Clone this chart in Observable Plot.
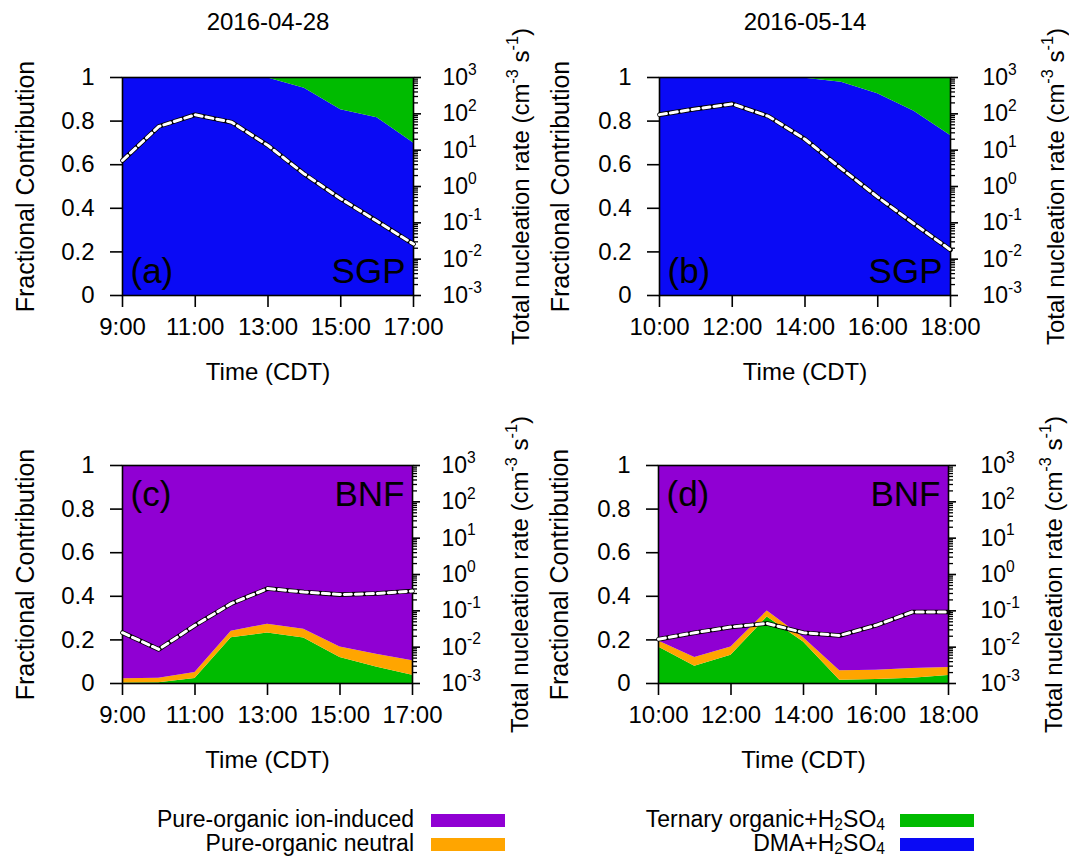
<!DOCTYPE html>
<html>
<head>
<meta charset="utf-8">
<script src="https://cdn.jsdelivr.net/npm/d3@7"></script>
<script src="https://cdn.jsdelivr.net/npm/@observablehq/plot@0.6"></script>
<style>
  html, body { margin: 0; padding: 0; background: #fff; }
  body { font-family: "Liberation Sans", Arial, Helvetica, sans-serif; }
  #wrap { position: relative; width: 1069px; height: 859px; overflow: hidden; }
  .layer { position: absolute; }
  .layer svg { overflow: visible; }
  .legtext { position: absolute; font-size: 23px; line-height: 21px; color: #000; white-space: nowrap; text-align: right; }
  .legtext sub { font-size: 0.68em; vertical-align: -0.22em; line-height: 0; }
  .swatch { position: absolute; width: 74px; height: 13px; }
</style>
</head>
<body>
<div id="wrap"></div>
<script>
// ---------------- data ----------------
const species = ["DMA+H2SO4", "Ternary organic+H2SO4", "Pure-organic neutral", "Pure-organic ion-induced"];
const speciesColors = ["#0a0af5", "#00bb00", "#ffa500", "#9000d3"];

const hoursApr = [9, 10, 11, 12, 13, 14, 15, 16, 17];
const hoursMay = [10, 11, 12, 13, 14, 15, 16, 17, 18];
const xTicksApr = [9, 11, 13, 15, 17];
const xTicksMay = [10, 12, 14, 16, 18];
const yTicksLeft = [0, 0.2, 0.4, 0.6, 0.8, 1];
const yTicksRight = [1e-3, 1e-2, 1e-1, 1e0, 1e1, 1e2, 1e3];

// (a) SGP 2016-04-28
const aDMA  = [1, 1, 1, 1, 0.998, 0.951, 0.852, 0.815, 0.699];
const aTern = [0, 0, 0, 0, 0.002, 0.049, 0.148, 0.185, 0.301];
const aNeut = [0, 0, 0, 0, 0, 0, 0, 0, 0];
const aIon  = [0, 0, 0, 0, 0, 0, 0, 0, 0];
const aRate = [5.2, 45, 94, 59, 13.4, 2.2, 0.46, 0.11, 0.026];

// (b) SGP 2016-05-14
const bDMA  = [1, 1, 1, 1, 0.997, 0.978, 0.925, 0.845, 0.734];
const bTern = [0, 0, 0, 0, 0.003, 0.022, 0.075, 0.155, 0.266];
const bNeut = [0, 0, 0, 0, 0, 0, 0, 0, 0];
const bIon  = [0, 0, 0, 0, 0, 0, 0, 0, 0];
const bRate = [95, 137, 188, 85, 20, 3.1, 0.51, 0.094, 0.018];

// (c) BNF 2016-04-28
const cDMA  = [0, 0, 0, 0, 0, 0, 0, 0, 0];
const cTern = [0.002, 0.003, 0.023, 0.21, 0.232, 0.209, 0.119, 0.076, 0.038];
const cNeut = [0.020, 0.021, 0.027, 0.03, 0.04, 0.04, 0.049, 0.058, 0.066];
const cIon  = [0.978, 0.976, 0.95, 0.76, 0.728, 0.751, 0.832, 0.866, 0.896];
const cRate = [0.025, 0.0087, 0.040, 0.158, 0.41, 0.33, 0.28, 0.30, 0.35];

// (d) BNF 2016-05-14
const dDMA  = [0, 0, 0, 0, 0, 0, 0, 0, 0];
const dTern = [0.168, 0.079, 0.13, 0.305, 0.19, 0.015, 0.018, 0.024, 0.037];
const dNeut = [0.027, 0.04, 0.038, 0.028, 0.02, 0.043, 0.043, 0.045, 0.036];
const dIon  = [0.805, 0.881, 0.832, 0.667, 0.79, 0.942, 0.939, 0.931, 0.927];
const dRate = [0.0166, 0.025, 0.036, 0.045, 0.025, 0.021, 0.04, 0.093, 0.093];

const legendItems = [
  {label: "Pure-organic ion-induced", color: speciesColors[3]},
  {label: "Pure-organic neutral", color: speciesColors[2]},
  {label: "Ternary organic+H<sub>2</sub>SO<sub>4</sub>", color: speciesColors[1]},
  {label: "DMA+H<sub>2</sub>SO<sub>4</sub>", color: speciesColors[0]}
];

// ---------------- helpers ----------------
const FONT = "'Liberation Sans', Arial, Helvetica, sans-serif";
const NS = "http://www.w3.org/2000/svg";
const wrap = document.getElementById("wrap");
const minorTicks = yTicksRight.slice(0, -1).flatMap(d => [2, 3, 4, 5, 6, 7, 8, 9].map(k => k * d));

function rich(svg) {
  svg.querySelectorAll("text").forEach(t => {
    const targets = t.querySelector("tspan") ? [...t.querySelectorAll("tspan")] : [t];
    for (const n of targets) {
      const s = n.textContent;
      if (!/[\^_]\{/.test(s)) continue;
      const fs = parseFloat(getComputedStyle(n).fontSize) || 24;
      while (n.firstChild) n.removeChild(n.firstChild);
      let cur = 0, last = 0, m;
      const re = /([\^_])\{([^}]*)\}/g;
      const add = (txt, size, target) => {
        const ts = document.createElementNS(NS, "tspan");
        if (size) ts.setAttribute("font-size", size);
        const dy = target - cur;
        if (dy) ts.setAttribute("dy", dy);
        cur = target;
        ts.textContent = txt;
        n.appendChild(ts);
      };
      while ((m = re.exec(s))) {
        if (m.index > last) add(s.slice(last, m.index), null, 0);
        add(m[2], 0.68 * fs, m[1] === "^" ? -0.45 * fs : 0.25 * fs);
        last = m.index + m[0].length;
      }
      if (last < s.length) add(s.slice(last), null, 0);
    }
  });
}

function place(svg, left, top) {
  const div = document.createElement("div");
  div.className = "layer";
  div.style.left = left + "px";
  div.style.top = top + "px";
  div.appendChild(svg);
  wrap.appendChild(div);
  rich(svg);
}

function panel(p) {
  const W = 534, H = 400;
  const arrs = [p.dma, p.tern, p.neut, p.ion];
  const rows = p.hours.flatMap((h, i) => species.map((s, k) => ({hour: h, species: s, value: arrs[k][i]})));
  const rateRows = p.hours.map((h, i) => ({hour: h, rate: p.rate[i]}));
  const xDomain = [p.hours[0], p.hours[p.hours.length - 1]];
  const common = {
    width: W, height: H,
    marginLeft: p.mL, marginRight: p.mR, marginTop: p.mT, marginBottom: p.mB,
    style: {background: "transparent", fontFamily: FONT, fontSize: "24px", color: "black", overflow: "visible"}
  };
  const txt = {text: d => d, lineAnchor: "middle"};
  const textMarks = [
    Plot.text(["Fractional Contribution"], {...txt, frameAnchor: "left", dx: p.yLabDx, rotate: -90, textAnchor: "middle", fontSize: 25}),
    Plot.text(["Time (CDT)"], {...txt, frameAnchor: "bottom", dy: 77, textAnchor: "middle", fontSize: 24}),
    Plot.text([p.tag], {...txt, frameAnchor: p.tagAnchor + "-left", dx: 8, dy: p.tagDy, textAnchor: "start", fontSize: 35}),
    Plot.text([p.site], {...txt, frameAnchor: p.tagAnchor + "-right", dx: -8, dy: p.tagDy, textAnchor: "end", fontSize: 35})
  ];
  if (p.title) textMarks.push(Plot.text([p.title], {...txt, frameAnchor: "top", dy: -55, textAnchor: "middle", fontSize: 24}));

  const base = Plot.plot({
    ...common,
    x: {domain: xDomain},
    y: {domain: [0, 1]},
    color: {domain: species, range: speciesColors},
    marks: [
      Plot.areaY(rows, {x: "hour", y: "value", z: "species", fill: "species", order: species}),
      Plot.frame({stroke: "black", strokeWidth: 1.6}),
      Plot.axisY({ticks: yTicksLeft, tickSize: 12, tickPadding: 16, tickFormat: d => String(d), label: null, strokeWidth: 1.6}),
      Plot.axisX({ticks: p.xTicks, tickSize: 12, tickPadding: 10, tickFormat: h => h + ":00", label: null, strokeWidth: 1.6}),
      ...textMarks
    ]
  });

  const over = Plot.plot({
    ...common,
    x: {domain: xDomain, axis: null},
    y: {type: "log", domain: [1e-3, 1e3]},
    marks: [
      Plot.line(rateRows, {x: "hour", y: "rate", stroke: "black", strokeWidth: 4.6}),
      Plot.line(rateRows, {x: "hour", y: "rate", stroke: "white", strokeWidth: 3, strokeDasharray: "7,4"}),
      Plot.axisY({anchor: "right", ticks: minorTicks, tickSize: 4, tickFormat: () => "", label: null, strokeWidth: 1.3}),
      Plot.axisY({anchor: "right", ticks: yTicksRight, tickSize: 7, tickPadding: p.rPad, fontSize: 23,
        tickFormat: d => `10^{${Math.round(Math.log10(d))}}`, label: null, strokeWidth: 1.6}),
      Plot.text(["Total nucleation rate (cm^{-3} s^{-1})"], {...txt, frameAnchor: "right", dx: p.rLabDx, rotate: -90, textAnchor: "middle", fontSize: 24})
    ]
  });

  place(base, p.left, p.top);
  place(over, p.left, p.top);
}

panel({left: 0, top: 0, mL: 122, mR: 121, mT: 77, mB: 105, hours: hoursApr, xTicks: xTicksApr,
  dma: aDMA, tern: aTern, neut: aNeut, ion: aIon, rate: aRate, tag: "(a)", site: "SGP", tagAnchor: "bottom", tagDy: -24,
  title: "2016-04-28", rPad: 22, yLabDx: -97, rLabDx: 108});
panel({left: 535, top: 0, mL: 124, mR: 119, mT: 77, mB: 105, hours: hoursMay, xTicks: xTicksMay,
  dma: bDMA, tern: bTern, neut: bNeut, ion: bIon, rate: bRate, tag: "(b)", site: "SGP", tagAnchor: "bottom", tagDy: -24,
  title: "2016-05-14", rPad: 25, yLabDx: -99, rLabDx: 106});
panel({left: 0, top: 390, mL: 122, mR: 122, mT: 75, mB: 107, hours: hoursApr, xTicks: xTicksApr,
  dma: cDMA, tern: cTern, neut: cNeut, ion: cIon, rate: cRate, tag: "(c)", site: "BNF", tagAnchor: "top", tagDy: 29,
  title: null, rPad: 22, yLabDx: -97, rLabDx: 108});
panel({left: 535, top: 390, mL: 123, mR: 121, mT: 75, mB: 107, hours: hoursMay, xTicks: xTicksMay,
  dma: dDMA, tern: dTern, neut: dNeut, ion: dIon, rate: dRate, tag: "(d)", site: "BNF", tagAnchor: "top", tagDy: 29,
  title: null, rPad: 25, yLabDx: -99, rLabDx: 106});

// ---------------- legend ----------------
const legendPos = [
  {textRight: 414, swatchLeft: 431, cy: 820},
  {textRight: 414, swatchLeft: 431, cy: 844},
  {textRight: 885, swatchLeft: 900, cy: 820},
  {textRight: 885, swatchLeft: 900, cy: 844}
];
legendItems.forEach((it, i) => {
  const pos = legendPos[i];
  const t = document.createElement("div");
  t.className = "legtext";
  t.style.right = (1069 - pos.textRight) + "px";
  t.style.top = (pos.cy - 11) + "px";
  t.innerHTML = it.label;
  wrap.appendChild(t);
  const s = document.createElement("div");
  s.className = "swatch";
  s.style.left = pos.swatchLeft + "px";
  s.style.top = (pos.cy - 6) + "px";
  s.style.background = it.color;
  wrap.appendChild(s);
});
</script>
</body>
</html>
